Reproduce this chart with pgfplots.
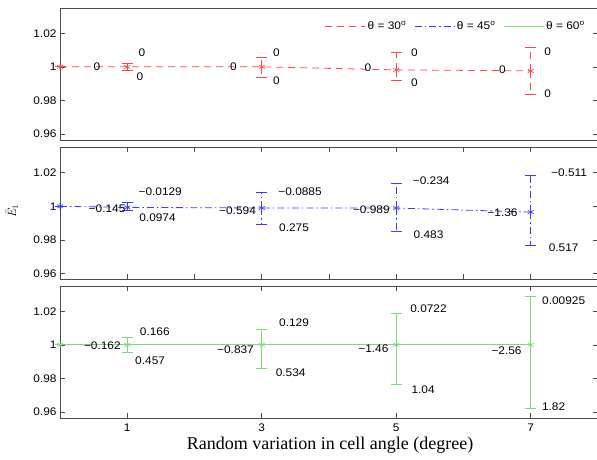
\documentclass[border=0pt]{standalone}
\usepackage{pgfplots}
\pgfplotsset{compat=1.18}
\usepackage{fontspec}
\setmainfont{Liberation Sans}[FakeStretch=1.08]
\newfontfamily\timesfont{Liberation Serif}
\definecolor{cred}{RGB}{255,70,70}
\definecolor{cblue}{RGB}{60,60,255}
\definecolor{cgreen}{RGB}{120,220,120}
\newcommand{\ann}{\fontsize{11}{13}\selectfont}
\pgfplotsset{
  panel/.style={scale only axis, width=538pt, height=132pt,
    xmin=0, xmax=8, ymin=0.9565, ymax=1.035,
    ytick={0.96,0.98,1,1.02}, yticklabels={0.96,0.98,1,1.02},
    tick align=inside, major tick length=5pt,
    axis line style={line width=0.9pt, black!70},
    every tick/.style={black!70, line width=0.6pt},
    tick label style={font=\ann},
    /pgf/number format/assume math mode=true,
    anchor=south west, clip=false,
    legend image code/.code={\draw[##1] (0pt,0pt) -- (40pt,0pt);},
  },
  ebar/.style={mark=asterisk, mark size=3.5pt, mark options={solid, line width=0.6pt},
    error bars/y dir=both, error bars/y explicit,
    error bars/error bar style={line width=0.8pt},
    error bars/error mark options={rotate=90, line width=0.8pt, mark size=5.5pt, solid}},
}
\pgfplotstableread{
x y ep em
0 1 0 0
1 1 0.002 0.002
3 1 0.0058 0.0061
5 0.9982 0.0103 0.0064
7 0.9976 0.0139 0.0137
}\redtab
\pgfplotstableread{
x y ep em
0 1 0 0
1 0.9994 0.0032 0.0020
3 0.9990 0.0094 0.0100
5 0.9990 0.0144 0.0140
7 0.9966 0.0216 0.0196
}\bluetab
\pgfplotstableread{
x y ep em
0 1 0 0
1 1 0.0046 0.0046
3 1 0.0093 0.0142
5 1 0.0188 0.0237
7 1 0.0287 0.0376
}\greentab
\begin{document}
\begin{tikzpicture}
\useasboundingbox (0,0) rectangle (597pt,460pt);
% Panel 1
\begin{axis}[panel, at={(60pt,320pt)}, xtick=\empty,
  legend columns=3,
  legend style={at={(rel axis cs:0.985,0.93)}, anchor=north east, draw=none, fill=none,
    font=\ann, /tikz/every even column/.append style={column sep=6pt}}]
\addlegendimage{cred, line width=0.8pt, dash pattern=on 7pt off 5pt}
\addlegendentry{θ = 30\textsuperscript{o}}
\addlegendimage{cblue, line width=0.8pt, dash pattern=on 7pt off 3pt on 1.5pt off 3pt}
\addlegendentry{θ = 45\textsuperscript{o}}
\addlegendimage{cgreen, line width=0.8pt}
\addlegendentry{θ = 60\textsuperscript{o}}
\addplot[forget plot, cred, line width=0.8pt, dash pattern=on 7pt off 5pt, ebar]
  table[x=x, y=y, y error plus=ep, y error minus=em] {\redtab};
\node[font=\ann] at (axis cs:0.55,1) {0};
\node[font=\ann] at (axis cs:1.22,1.0084) {0};
\node[font=\ann] at (axis cs:1.19,0.994) {0};
\node[font=\ann] at (axis cs:2.58,1) {0};
\node[font=\ann] at (axis cs:3.22,1.0084) {0};
\node[font=\ann] at (axis cs:3.22,0.9916) {0};
\node[font=\ann] at (axis cs:4.58,0.9995) {0};
\node[font=\ann] at (axis cs:5.27,1.0084) {0};
\node[font=\ann] at (axis cs:5.27,0.9904) {0};
\node[font=\ann] at (axis cs:6.58,0.998) {0};
\node[font=\ann] at (axis cs:7.25,1.009) {0};
\node[font=\ann] at (axis cs:7.25,0.9843) {0};
\end{axis}
% Panel 2
\begin{axis}[panel, at={(60pt,180.5pt)}, xtick={0,1,...,8}, xticklabels={}]
\addplot[cblue, line width=0.8pt, dash pattern=on 7pt off 3pt on 1.5pt off 3pt, ebar]
  table[x=x, y=y, y error plus=ep, y error minus=em] {\bluetab};
\node[font=\ann] at (axis cs:0.70,0.9984) {−0.145};
\node[font=\ann] at (axis cs:1.49,1.0086) {−0.0129};
\node[font=\ann] at (axis cs:1.45,0.993) {0.0974};
\node[font=\ann] at (axis cs:2.64,0.9974) {−0.594};
\node[font=\ann] at (axis cs:3.57,1.009) {−0.0885};
\node[font=\ann] at (axis cs:3.48,0.987) {0.275};
\node[font=\ann] at (axis cs:4.63,0.998) {−0.989};
\node[font=\ann] at (axis cs:5.52,1.0154) {−0.234};
\node[font=\ann] at (axis cs:5.48,0.983) {0.483};
\node[font=\ann] at (axis cs:6.58,0.996) {−1.36};
\node[font=\ann] at (axis cs:7.57,1.02) {−0.511};
\node[font=\ann] at (axis cs:7.49,0.9754) {0.517};
\end{axis}
% Panel 3
\begin{axis}[panel, at={(60pt,42pt)}, xtick={1,3,5,7}, xticklabels={1,3,5,7},
  xticklabel style={yshift=-2pt}]
\addplot[cgreen, line width=0.8pt, ebar]
  table[x=x, y=y, y error plus=ep, y error minus=em] {\greentab};
\node[font=\ann] at (axis cs:0.63,0.9996) {−0.162};
\node[font=\ann] at (axis cs:1.41,1.0079) {0.166};
\node[font=\ann] at (axis cs:1.34,0.9905) {0.457};
\node[font=\ann] at (axis cs:2.61,0.997) {−0.837};
\node[font=\ann] at (axis cs:3.48,1.0132) {0.129};
\node[font=\ann] at (axis cs:3.43,0.9835) {0.534};
\node[font=\ann] at (axis cs:4.66,0.9976) {−1.46};
\node[font=\ann] at (axis cs:5.48,1.0212) {0.0722};
\node[font=\ann] at (axis cs:5.40,0.9733) {1.04};
\node[font=\ann] at (axis cs:6.64,0.9966) {−2.56};
\node[font=\ann] at (axis cs:7.49,1.0263) {0.00925};
\node[font=\ann] at (axis cs:7.34,0.9633) {1.82};
\end{axis}
\node[rotate=90, font=\fontsize{11.5}{13}\selectfont] at (12pt,249pt) {$\bar{E}_1$};
\node[font=\timesfont\fontsize{18}{21}\selectfont] at (330pt,15pt) {Random variation in cell angle (degree)};
\end{tikzpicture}
\end{document}
